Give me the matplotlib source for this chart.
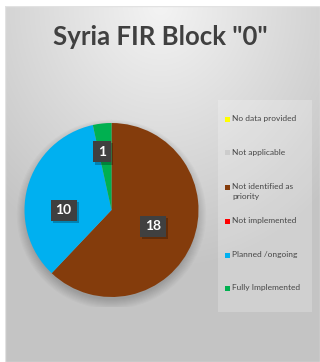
import numpy as np
import matplotlib.pyplot as plt
from matplotlib.patches import Rectangle, Circle
import matplotlib.patheffects as pe

plt.rcParams['font.family'] = ['Lato', 'DejaVu Sans']

title = 'Syria FIR Block "0"'
categories = ["No data provided", "Not applicable", "Not identified as\npriority",
              "Not implemented", "Planned /ongoing", "Fully Implemented"]
values = [0, 0, 18, 0, 10, 1]
colors = ["#ffff00", "#cccccc", "#843c0c", "#ff0000", "#00b0f0", "#00b050"]

W, H = 320, 362
fig = plt.figure(figsize=(W / 100, H / 100), dpi=100)
fig.patch.set_facecolor("white")

# panel background with a soft radial gradient
bg = fig.add_axes([5 / W, 0, 1 - 5 / W, 1 - 6 / H])
bg.set_axis_off()
yy, xx = np.mgrid[0:356, 0:315]
d = np.hypot((xx - 155) / 315, (yy - 0) / 356)
shade = np.clip(0.955 - 0.25 * d, 0.77, 0.96)
bg.imshow(np.dstack([shade] * 3), extent=[0, 315, 356, 0], aspect="auto")
bg.set_xlim(0, 315)
bg.set_ylim(356, 0)
bg.add_patch(Rectangle((0, 0), 315, 356, fill=False, ec="#e2e2e2", lw=1))
# legend panel
bg.add_patch(Rectangle((213, 94), 94, 212, fc="white", alpha=0.22, ec="none"))

fig.text(0.5, 1 - 37 / H, title, ha="center", va="center", fontsize=18.5,
         fontweight="bold", color="#404040")

# pie
cx, cy, r = 111.5, 210, 87
ax = fig.add_axes([(cx - r - 10) / W, 1 - (cy + r + 10) / H, 2 * (r + 10) / W, 2 * (r + 10) / H])
wedges, _ = ax.pie(values, colors=colors, startangle=90, counterclock=False,
                   radius=1, wedgeprops=dict(lw=0))
lim = (r + 10) / r
ax.set_xlim(-lim, lim)
ax.set_ylim(-lim, lim)
ax.set_axis_off()
for k in range(10):
    ax.add_patch(Circle((0.0, -0.05), 0.98 + 0.012 * k, fc="black", alpha=0.02,
                        ec="none", zorder=0))
for w in wedges:
    w.set_zorder(2)

# data labels: radius and angular nudge per slice (best-fit placement)
label_r = {2: 0.51, 4: 0.55, 5: 0.68}
label_turn = {2: 0, 4: 16, 5: 3}
for i, v in enumerate(values):
    if v == 0:
        continue
    w = wedges[i]
    ang = np.deg2rad((w.theta1 + w.theta2) / 2 + label_turn.get(i, 0))
    rr = label_r.get(i, 0.6)
    t = ax.text(rr * np.cos(ang), rr * np.sin(ang), str(v), ha="center", va="center",
                fontsize=10, fontweight="bold", color="white", zorder=5,
                bbox=dict(boxstyle="square,pad=0.35", fc="#404040", ec="none"))
    t.get_bbox_patch().set_path_effects(
        [pe.SimplePatchShadow(offset=(1.5, -1.5), shadow_rgbFace="black", alpha=0.25),
         pe.Normal()])

# legend
ys = [119, 153, 187, 221, 255, 288]
for lab, col, y in zip(categories, colors, ys):
    fig.patches.append(Rectangle((225 / W, 1 - (y + 2.5) / H), 5 / W, 5 / H,
                                 transform=fig.transFigure, fc=col, ec="none"))
    fig.text(232.5 / W, 1 - (y - 4) / H, lab, ha="left", va="top", fontsize=6.0,
             color="#474747", linespacing=1.55)

fig.savefig("out.png", dpi=100)
